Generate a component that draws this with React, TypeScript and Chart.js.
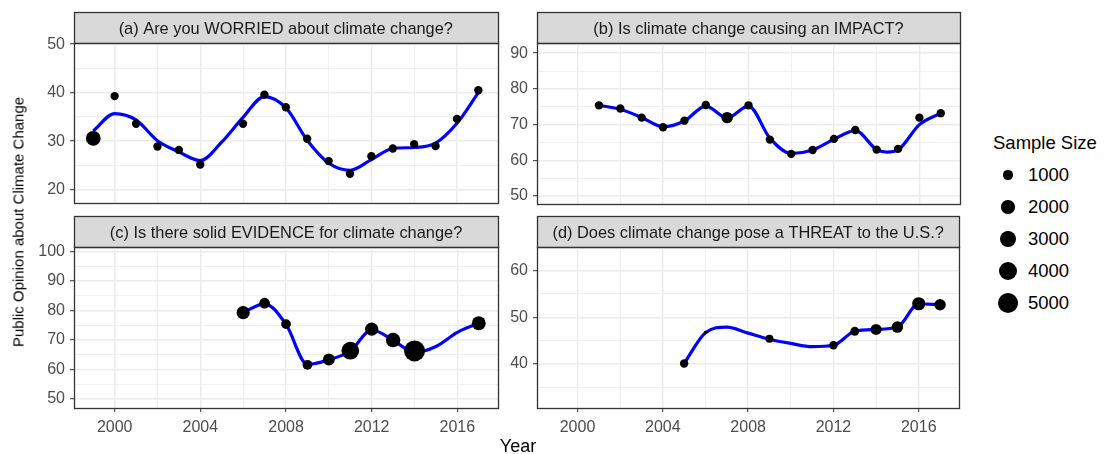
import React, { useEffect, useRef } from 'react';
import { Chart, registerables } from 'chart.js';

Chart.register(...registerables);

const FONT = "'Liberation Sans', Arial, Helvetica, sans-serif";

// Shared x axis
const xMajor = [2000, 2004, 2008, 2012, 2016];
const xMinor = [2002, 2006, 2010, 2014];
const xLimits = [1998.1, 2017.9];

// (a) WORRIED
const worriedTitle = '(a) Are you WORRIED about climate change?';
const worriedYears = [1999, 2000, 2001, 2002, 2003, 2004, 2006, 2007, 2008, 2009, 2010, 2011, 2012, 2013, 2014, 2015, 2016, 2017];
const worriedValues = [30.6, 39.3, 33.6, 28.9, 28.2, 25.2, 33.6, 39.6, 37.0, 30.5, 25.9, 23.3, 26.9, 28.5, 29.4, 29.0, 34.6, 40.5];
const worriedSizes = [2500, 800, 800, 800, 800, 800, 800, 800, 800, 800, 800, 800, 800, 800, 800, 800, 800, 800];
const worriedSmoothYears = [1999, 2000, 2001, 2002, 2003, 2004, 2005, 2006, 2007, 2008, 2009, 2010, 2011, 2012, 2013, 2014, 2015, 2016, 2017];
const worriedSmooth = [32.1, 35.7, 34.4, 30.1, 27.8, 26.0, 29.8, 34.9, 39.2, 36.9, 30.2, 25.5, 24.0, 26.2, 28.5, 28.7, 29.6, 33.7, 40.0];
const worriedYMajor = [20, 30, 40, 50];
const worriedYMinor = [25, 35, 45];
const worriedYLimits = [17.34, 50.27];

// (b) IMPACT
const impactTitle = '(b) Is climate change causing an IMPACT?';
const impactYears = [2001, 2002, 2003, 2004, 2005, 2006, 2007, 2008, 2009, 2010, 2011, 2012, 2013, 2014, 2015, 2016, 2017];
const impactValues = [75.4, 74.5, 71.95, 69.25, 71.1, 75.5, 71.95, 75.4, 65.8, 61.8, 62.9, 66.0, 68.5, 63.0, 63.2, 71.95, 73.2];
const impactSizes = [800, 800, 800, 800, 800, 800, 1500, 800, 800, 800, 800, 800, 800, 800, 800, 800, 800];
const impactSmoothYears = [2001, 2002, 2003, 2004, 2005, 2006, 2007, 2008, 2009, 2010, 2011, 2012, 2013, 2014, 2014.5, 2015, 2016, 2017];
const impactSmooth = [75.4, 74.3, 72.0, 69.4, 71.0, 75.2, 71.9, 75.2, 66.2, 61.9, 62.9, 65.9, 68.3, 63.0, 62.3, 62.9, 70.0, 73.2];
const impactYMajor = [50, 60, 70, 80, 90];
const impactYMinor = [55, 65, 75, 85];
const impactYLimits = [47.76, 92.89];

// (c) EVIDENCE
const evidenceTitle = '(c) Is there solid EVIDENCE for climate change?';
const evidenceYears = [2006, 2007, 2008, 2009, 2010, 2011, 2012, 2013, 2014, 2017];
const evidenceValues = [79.3, 82.5, 75.4, 61.6, 63.4, 66.4, 73.7, 70.0, 66.3, 75.7];
const evidenceSizes = [2000, 1300, 1100, 1100, 1600, 3600, 2000, 2400, 5000, 2200];
const evidenceSmoothYears = [2006, 2007, 2008, 2009, 2010, 2011, 2012, 2013, 2014, 2015, 2016, 2017];
const evidenceSmooth = [79.4, 82.3, 75.3, 61.7, 63.3, 66.3, 73.4, 70.0, 65.8, 67.8, 72.6, 75.7];
const evidenceYMajor = [50, 60, 70, 80, 90, 100];
const evidenceYMinor = [55, 65, 75, 85, 95];
const evidenceYLimits = [46.95, 101.6];

// (d) THREAT
const threatTitle = '(d) Does climate change pose a THREAT to the U.S.?';
const threatYears = [2005, 2006, 2009, 2012, 2013, 2014, 2015, 2016, 2017];
const threatValues = [40.1, 46.8, 45.4, 44.0, 47.0, 47.4, 47.9, 52.9, 52.7];
const threatSizes = [800, 100, 750, 800, 900, 1400, 1500, 2000, 1500];
const threatSmoothYears = [2005, 2006, 2007, 2008, 2009, 2010, 2011, 2012, 2013, 2014, 2015, 2016, 2017];
const threatSmooth = [40.1, 46.7, 47.9, 46.6, 45.3, 44.4, 43.7, 44.0, 47.0, 47.4, 47.9, 52.9, 52.7];
const threatYMajor = [40, 50, 60];
const threatYMinor = [35, 45, 55, 65];
const threatYLimits = [30.57, 65.08];

// Legend
const legendTitle = 'Sample Size';
const legendSizes = [1000, 2000, 3000, 4000, 5000];
const legendLabels = ['1000', '2000', '3000', '4000', '5000'];

const yAxisTitle = 'Public Opinion about Climate Change';
const xAxisTitle = 'Year';

function radiusFor(n: number): number {
  return 0.148 * Math.sqrt(n);
}

type PanelSpec = {
  title: string;
  years: number[];
  values: number[];
  sizes: number[];
  smoothYears: number[];
  smooth: number[];
  yMajor: number[];
  yMinor: number[];
  yLimits: number[];
  left: number;
  top: number;
  width: number;
  height: number;
  axisWidth: number;
  padTop: number;
  padRight: number;
  padBottom: number;
  showX: boolean;
};

const framePlugin = {
  id: 'ggFrame',
  beforeDraw(chart: any) {
    const { ctx, chartArea } = chart;
    const tb = chart.titleBlock;
    if (!tb) return;
    const l = Math.round(chartArea.left) + 0.5;
    const r = Math.round(chartArea.right) + 0.5;
    const t = Math.round(tb.top) + 0.5;
    const b = Math.round(chartArea.top) + 0.5;
    ctx.save();
    ctx.fillStyle = '#D9D9D9';
    ctx.fillRect(l, t, r - l, b - t);
    ctx.strokeStyle = '#333333';
    ctx.lineWidth = 1.3;
    ctx.strokeRect(l, t, r - l, b - t);
    ctx.restore();
  },
  afterDraw(chart: any) {
    const { ctx, chartArea } = chart;
    const l = Math.round(chartArea.left) + 0.5;
    const r = Math.round(chartArea.right) + 0.5;
    const t = Math.round(chartArea.top) + 0.5;
    const b = Math.round(chartArea.bottom) + 0.5;
    ctx.save();
    ctx.strokeStyle = '#333333';
    ctx.lineWidth = 1.3;
    ctx.strokeRect(l, t, r - l, b - t);
    ctx.restore();
  },
};

function Panel({ spec }: { spec: PanelSpec }) {
  const ref = useRef<HTMLCanvasElement>(null);
  useEffect(() => {
    if (!ref.current) return;
    const isMajorX = (v: number) => xMajor.includes(v);
    const isMajorY = (v: number) => spec.yMajor.includes(v);
    const xTicks = [...xMajor, ...xMinor].sort((a, b) => a - b);
    const yTicks = [...spec.yMajor, ...spec.yMinor].sort((a, b) => a - b);
    const chart = new Chart(ref.current, {
      type: 'line',
      data: {
        datasets: [
          {
            type: 'line',
            label: 'points',
            data: spec.years.map((x, i) => ({ x, y: spec.values[i] })),
            showLine: false,
            pointRadius: spec.sizes.map(radiusFor),
            pointHoverRadius: spec.sizes.map(radiusFor),
            pointBackgroundColor: '#000000',
            pointBorderWidth: 0,
            borderColor: '#000000',
          },
          {
            type: 'line',
            label: 'smooth',
            data: spec.smoothYears.map((x, i) => ({ x, y: spec.smooth[i] })),
            borderColor: '#0000FF',
            borderWidth: 3.2,
            pointRadius: 0,
            cubicInterpolationMode: 'monotone',
            fill: false,
          },
        ],
      },
      options: {
        responsive: false,
        animation: false,
        events: [],
        layout: {
          padding: { left: 0, top: spec.padTop, right: spec.padRight, bottom: spec.padBottom },
        },
        plugins: {
          legend: { display: false },
          tooltip: { enabled: false },
          title: {
            display: true,
            text: spec.title,
            fullSize: false,
            color: '#1A1A1A',
            font: { family: FONT, size: 16.4, weight: 'normal', lineHeight: 1.2 },
            padding: { top: 7.6, bottom: 3.6 },
          },
        },
        scales: {
          x: {
            type: 'linear',
            min: xLimits[0],
            max: xLimits[1],
            afterBuildTicks: (s: any) => {
              s.ticks = xTicks.map((v) => ({ value: v }));
            },
            afterFit: (s: any) => {
              s.paddingLeft = 0;
              s.paddingRight = 0;
              s.height = spec.showX ? 40 : 0;
            },
            grid: {
              color: '#EBEBEB',
              lineWidth: (c: any) => (c.tick && isMajorX(c.tick.value) ? 1.4 : 0.8),
              drawTicks: spec.showX,
              tickLength: 4,
              tickWidth: 1,
              tickColor: (c: any) => (c.tick && isMajorX(c.tick.value) ? '#333333' : 'rgba(0,0,0,0)'),
            },
            border: { display: false },
            ticks: {
              display: spec.showX,
              autoSkip: false,
              maxRotation: 0,
              minRotation: 0,
              padding: 6,
              color: '#4D4D4D',
              font: { family: FONT, size: 16 },
              callback: (v: any) => (isMajorX(Number(v)) ? String(v) : ''),
            },
          },
          y: {
            type: 'linear',
            min: spec.yLimits[0],
            max: spec.yLimits[1],
            afterBuildTicks: (s: any) => {
              s.ticks = yTicks.map((v) => ({ value: v }));
            },
            afterFit: (s: any) => {
              s.width = spec.axisWidth;
              s.paddingTop = 0;
              s.paddingBottom = 0;
            },
            grid: {
              color: '#EBEBEB',
              lineWidth: (c: any) => (c.tick && isMajorY(c.tick.value) ? 1.4 : 0.8),
              drawTicks: true,
              tickLength: 4,
              tickWidth: 1,
              tickColor: (c: any) => (c.tick && isMajorY(c.tick.value) ? '#333333' : 'rgba(0,0,0,0)'),
            },
            border: { display: false },
            ticks: {
              autoSkip: false,
              padding: 5,
              color: '#4D4D4D',
              font: { family: FONT, size: 16 },
              callback: (v: any) => (isMajorY(Number(v)) ? String(v) : ''),
            },
          },
        },
      } as any,
      plugins: [framePlugin],
    } as any);
    return () => chart.destroy();
  }, [spec]);
  return (
    <canvas
      ref={ref}
      width={spec.width}
      height={spec.height}
      style={{ position: 'absolute', left: spec.left, top: spec.top, width: spec.width, height: spec.height }}
    />
  );
}

const panels: PanelSpec[] = [
  {
    title: worriedTitle, years: worriedYears, values: worriedValues, sizes: worriedSizes,
    smoothYears: worriedSmoothYears, smooth: worriedSmooth,
    yMajor: worriedYMajor, yMinor: worriedYMinor, yLimits: worriedYLimits,
    left: 0, top: 0, width: 505, height: 210, axisWidth: 74, padTop: 12, padRight: 6, padBottom: 6, showX: false,
  },
  {
    title: impactTitle, years: impactYears, values: impactValues, sizes: impactSizes,
    smoothYears: impactSmoothYears, smooth: impactSmooth,
    yMajor: impactYMajor, yMinor: impactYMinor, yLimits: impactYLimits,
    left: 505, top: 0, width: 460, height: 210, axisWidth: 32, padTop: 12, padRight: 5, padBottom: 6, showX: false,
  },
  {
    title: evidenceTitle, years: evidenceYears, values: evidenceValues, sizes: evidenceSizes,
    smoothYears: evidenceSmoothYears, smooth: evidenceSmooth,
    yMajor: evidenceYMajor, yMinor: evidenceYMinor, yLimits: evidenceYLimits,
    left: 0, top: 200, width: 505, height: 254, axisWidth: 74, padTop: 16, padRight: 6, padBottom: 6, showX: true,
  },
  {
    title: threatTitle, years: threatYears, values: threatValues, sizes: threatSizes,
    smoothYears: threatSmoothYears, smooth: threatSmooth,
    yMajor: threatYMajor, yMinor: threatYMinor, yLimits: threatYLimits,
    left: 505, top: 200, width: 460, height: 254, axisWidth: 32, padTop: 16, padRight: 5, padBottom: 6, showX: true,
  },
];

export default function App() {
  return (
    <div
      style={{
        position: 'fixed', left: 0, top: 0, width: 1107, height: 454,
        background: '#ffffff', fontFamily: FONT, overflow: 'hidden',
      }}
    >
      {panels.map((p, i) => (
        <Panel key={i} spec={p} />
      ))}
      <div
        style={{
          position: 'absolute', left: 18, top: 222, transform: 'translate(-50%, -50%) rotate(-90deg)',
          whiteSpace: 'nowrap', fontSize: 15, lineHeight: '15px', color: '#000',
        }}
      >
        {yAxisTitle}
      </div>
      <div
        style={{
          position: 'absolute', left: 518, top: 437, transform: 'translateX(-50%)',
          whiteSpace: 'nowrap', fontSize: 18, lineHeight: '18px', color: '#000',
        }}
      >
        {xAxisTitle}
      </div>
      <div
        style={{
          position: 'absolute', left: 993, top: 134, whiteSpace: 'nowrap',
          fontSize: 18.5, lineHeight: '18.5px', color: '#000',
        }}
      >
        {legendTitle}
      </div>
      {legendSizes.map((n, i) => {
        const r = radiusFor(n);
        const cy = 175 + i * 32;
        return (
          <React.Fragment key={n}>
            <div
              style={{
                position: 'absolute', left: 1008 - r, top: cy - r, width: 2 * r, height: 2 * r,
                borderRadius: '50%', background: '#000',
              }}
            />
            <div
              style={{
                position: 'absolute', left: 1028, top: cy, transform: 'translateY(-50%)',
                whiteSpace: 'nowrap', fontSize: 18.5, lineHeight: '18.5px', color: '#000',
              }}
            >
              {legendLabels[i]}
            </div>
          </React.Fragment>
        );
      })}
    </div>
  );
}
